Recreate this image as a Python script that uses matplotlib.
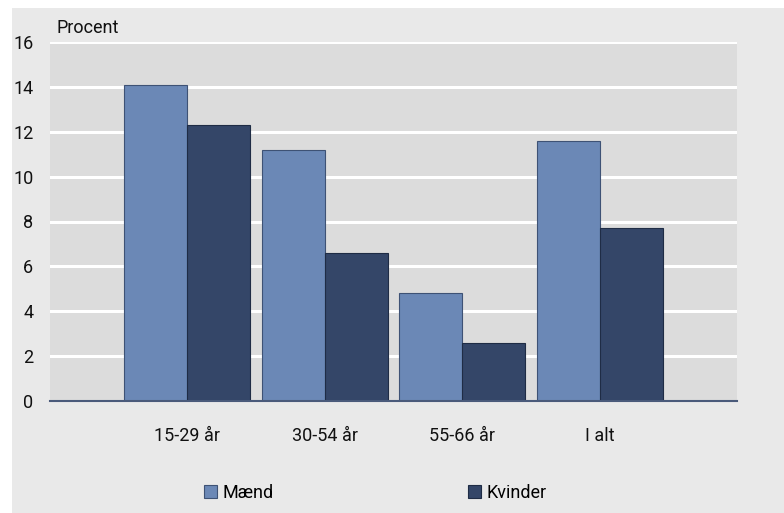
import matplotlib
matplotlib.use("Agg")
import matplotlib.pyplot as plt
import numpy as np
from matplotlib.patches import Rectangle

categories = ["15-29 år", "30-54 år", "55-66 år", "I alt"]
maend = [14.1, 11.2, 4.8, 11.6]
kvinder = [12.3, 6.6, 2.6, 7.7]
series_names = ["Mænd", "Kvinder"]
y_ticks = [0, 2, 4, 6, 8, 10, 12, 14, 16]

plt.rcParams["font.family"] = ["Roboto", "DejaVu Sans"]
FS = 13

W, H = 784, 513
fig = plt.figure(figsize=(W / 100, H / 100), dpi=100)
fig.patch.set_facecolor("#e9e9e9")
# white strips at top and left, as in the original
fig.patches.append(Rectangle((0, 0), 12 / W, 1, transform=fig.transFigure,
                             facecolor="white", edgecolor="none", zorder=-1))
fig.patches.append(Rectangle((0, 1 - 8 / H), 1, 8 / H, transform=fig.transFigure,
                             facecolor="white", edgecolor="none", zorder=-1))

ax = fig.add_axes([50 / W, (H - 401) / H, (737 - 50) / W, (401 - 42) / H])
ax.set_facecolor("#dcdcdc")

x = np.arange(len(categories))
w = 0.458
c_m, c_k = "#6b88b6", "#344668"
ax.bar(x - w / 2, maend, w, color=c_m, edgecolor="#3e5275", linewidth=0.8,
       label=series_names[0], zorder=3)
ax.bar(x + w / 2, kvinder, w, color=c_k, edgecolor="#1f2c45", linewidth=0.8,
       label=series_names[1], zorder=3)

ax.set_xlim(-1, 4)
ax.set_ylim(0, 16)
ax.set_yticks(y_ticks)
ax.yaxis.grid(True, color="white", linewidth=2.2, zorder=1)
ax.set_axisbelow(True)
for s in ["top", "right", "left"]:
    ax.spines[s].set_visible(False)
ax.spines["bottom"].set_color("#4a5a7a")
ax.spines["bottom"].set_linewidth(1.5)
ax.spines["bottom"].set_zorder(4)
ax.tick_params(axis="both", length=0, labelsize=FS, colors="#111111")
ax.tick_params(axis="y", pad=12)
ax.tick_params(axis="x", pad=19)
ax.set_xticks(x)
ax.set_xticklabels(categories)
fig.text(57 / W, (H - 28) / H, "Procent",
         fontsize=FS, va="center", ha="left", color="#111111")

h1 = Rectangle((0, 0), 1, 1, facecolor=c_m, edgecolor="#3e5275", linewidth=0.8)
h2 = Rectangle((0, 0), 1, 1, facecolor=c_k, edgecolor="#1f2c45", linewidth=0.8)
fig.legend([h1], [series_names[0]], loc="center left",
           bbox_to_anchor=(197 / W, (H - 493) / H), frameon=False,
           fontsize=FS, handlelength=0.7, handleheight=0.7,
           handletextpad=0.3, borderaxespad=0)
fig.legend([h2], [series_names[1]], loc="center left",
           bbox_to_anchor=(461 / W, (H - 493) / H), frameon=False,
           fontsize=FS, handlelength=0.7, handleheight=0.7,
           handletextpad=0.3, borderaxespad=0)

fig.savefig("out.png", dpi=100, facecolor=fig.get_facecolor())
